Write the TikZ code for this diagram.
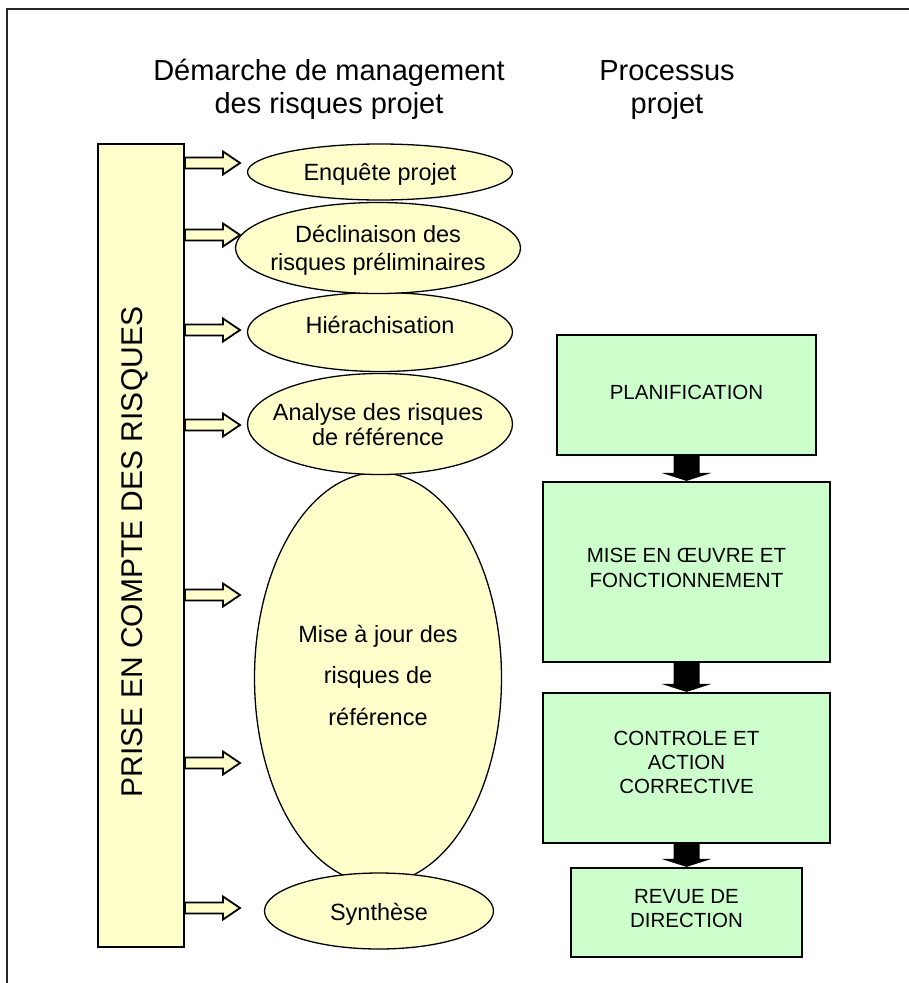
\documentclass[tikz,border=0pt]{standalone}
\usepackage{fontspec}
\setmainfont{Liberation Sans}
\usetikzlibrary{shapes.geometric,calc}
\definecolor{yel}{HTML}{FFFFCC}
\definecolor{grn}{HTML}{CCFFCC}
\newcommand{\ml}[1]{\begin{tabular}[t]{@{}c@{}}#1\end{tabular}}
\begin{document}
\begin{tikzpicture}[x=1pt,y=-1pt,
  ell/.style={ellipse, draw, fill=yel, line width=1.3pt, inner sep=0pt},
  gbox/.style={rectangle, draw, fill=grn, line width=2.2pt, inner sep=0pt},
  etxt/.style={font=\fontsize{23.5}{27}\selectfont, anchor=base, inner sep=0pt},
  btxt/.style={font=\fontsize{20.5}{24.5}\selectfont, anchor=base, inner sep=0pt},
  ttxt/.style={font=\fontsize{29}{33}\selectfont, anchor=base, inner sep=0pt},
  yarrow/.style={draw, fill=yel, line width=1.8pt, line join=miter},
  darrow/.style={fill=black}]
\useasboundingbox (0,0) rectangle (909,983);
\fill[white] (0,0) rectangle (909,983);
% frame
\draw[line width=2.5pt, black!85] (7,983) -- (7,9) -- (909,9);
% titles
\node[ttxt] (h1) at (329,80) {\ml{Démarche de management\\des risques projet}};
\node[ttxt] (h2) at (667,80) {\ml{Processus\\projet}};
% left box
\node[draw, fill=yel, line width=2pt, minimum width=86pt, minimum height=803pt, inner sep=0pt] (pc) at (141,545.5) {};
\node[rotate=90, anchor=base, font=\fontsize{30}{36}\selectfont, inner sep=0pt] (pct) at (142,552) {PRISE EN COMPTE DES RISQUES};
% yellow block arrows
\newcommand{\yarr}[1]{\draw[yarrow] (pc.east |- 0,#1) ++(0,-5.5) -- ++(38,0) -- ++(0,-6) -- ++(17,11.5) -- ++(-17,11.5) -- ++(0,-6) -- ++(-38,0) -- cycle;}
\yarr{163}\yarr{235}\yarr{330}\yarr{425}\yarr{595}\yarr{763}\yarr{908}
% ellipses (drawing order matters)
\node[ell, minimum width=265pt, minimum height=56pt] (e1) at (380,172) {};
\node[ell, minimum width=265pt, minimum height=79pt] (e3) at (380,332) {};
\node[ell, minimum width=285pt, minimum height=91pt] (e2) at (378,248) {};
\node[ell, minimum width=247pt, minimum height=411pt] (e5) at (378,678) {};
\node[ell, minimum width=265pt, minimum height=101pt] (e4) at (380,424) {};
\node[ell, minimum width=229pt, minimum height=76pt] (e6) at (379,911) {};
% ellipse texts
\node[etxt] (t1) at (380,180) {Enquête projet};
\node[etxt, font=\fontsize{23.5}{28}\selectfont] (t2) at (378,242) {\ml{Déclinaison des\\risques préliminaires}};
\node[etxt] (t3) at (380,333) {Hiérachisation};
\node[etxt, font=\fontsize{23.5}{25.5}\selectfont] (t4) at (378,420) {\ml{Analyse des risques\\de référence}};
\node[etxt, font=\fontsize{23.5}{41.5}\selectfont] (t5) at (378,642) {\ml{Mise à jour des\\risques de\\référence}};
\node[etxt] (t6) at (379,920) {Synthèse};
% right boxes
\node[gbox, minimum width=259pt, minimum height=120pt] (plan) at (686.5,395) {};
\node[gbox, minimum width=287pt, minimum height=180pt] (mise) at (686.5,572) {};
\node[gbox, minimum width=287pt, minimum height=150pt] (ctrl) at (686.5,768) {};
\node[gbox, minimum width=231pt, minimum height=89pt] (rev) at (686.5,912.5) {};
\node[btxt] (p1) at (686.5,399) {PLANIFICATION};
\node[btxt, font=\fontsize{20.5}{25}\selectfont] (p2) at (686.5,562) {\ml{MISE EN ŒUVRE ET\\FONCTIONNEMENT}};
\node[btxt, font=\fontsize{20.5}{24}\selectfont] (p3) at (686.5,745) {\ml{CONTROLE ET\\ACTION\\CORRECTIVE}};
\node[btxt, font=\fontsize{20.5}{24}\selectfont] (p4) at (686.5,903) {\ml{REVUE DE\\DIRECTION}};
% black block arrows
\newcommand{\darr}[2]{\fill[darrow] ($(#1.south)+(-13,0)$) -- ($(#2.north)+(-13,-8)$) -- ($(#2.north)+(-25,-8)$) -- (#2.north) -- ($(#2.north)+(25,-8)$) -- ($(#2.north)+(13,-8)$) -- ($(#1.south)+(13,0)$) -- cycle;}
\darr{plan}{mise}
\darr{mise}{ctrl}
\darr{ctrl}{rev}
\end{tikzpicture}
\end{document}
